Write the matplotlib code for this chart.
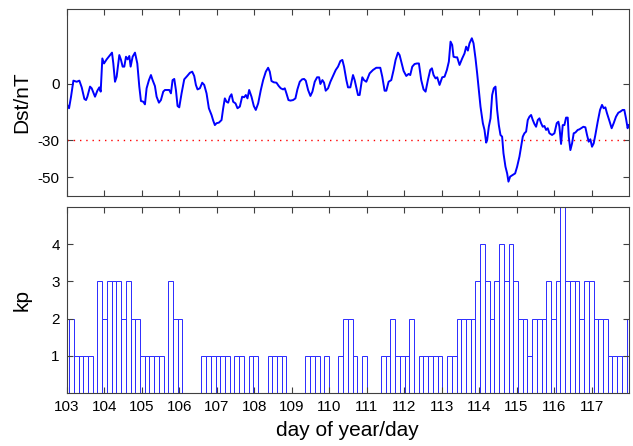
import numpy as np
import matplotlib
matplotlib.use("Agg")
import matplotlib.pyplot as plt

plt.rcParams['font.family'] = ['Liberation Sans', 'DejaVu Sans']

# Hourly-ish Dst index (day of year, nT)
dst_day = [
    103.000, 103.062, 103.115, 103.178, 103.266, 103.337, 103.400, 103.471, 103.515, 103.551,
    103.622, 103.666, 103.755, 103.817, 103.870, 103.906, 103.950, 103.995, 104.066, 104.137,
    104.208, 104.243, 104.288, 104.332, 104.403, 104.448, 104.492, 104.536, 104.581, 104.625,
    104.670, 104.705, 104.758, 104.821, 104.883, 104.936, 104.980, 105.043, 105.087, 105.131,
    105.194, 105.247, 105.291, 105.353, 105.398, 105.460, 105.513, 105.575, 105.620, 105.682,
    105.735, 105.780, 105.824, 105.869, 105.913, 105.957, 106.002, 106.064, 106.135, 106.215,
    106.286, 106.348, 106.401, 106.446, 106.490, 106.552, 106.615, 106.668, 106.730, 106.792,
    106.863, 106.908, 106.952, 106.996, 107.059, 107.130, 107.174, 107.218, 107.263, 107.307,
    107.352, 107.396, 107.440, 107.503, 107.556, 107.618, 107.680, 107.734, 107.778, 107.822,
    107.867, 107.929, 107.991, 108.044, 108.107, 108.178, 108.240, 108.311, 108.373, 108.417,
    108.462, 108.524, 108.595, 108.657, 108.710, 108.773, 108.817, 108.861, 108.915, 108.968,
    109.039, 109.101, 109.154, 109.217, 109.279, 109.332, 109.377, 109.439, 109.501, 109.554,
    109.616, 109.679, 109.732, 109.767, 109.821, 109.865, 109.909, 109.972, 110.034, 110.105,
    110.176, 110.238, 110.300, 110.353, 110.398, 110.460, 110.504, 110.566, 110.637, 110.681,
    110.770, 110.814, 110.885, 110.930, 110.992, 111.081, 111.170, 111.258, 111.365, 111.418,
    111.480, 111.525, 111.587, 111.658, 111.720, 111.773, 111.836, 111.880, 111.925, 111.987,
    112.058, 112.120, 112.164, 112.218, 112.280, 112.342, 112.395, 112.457, 112.519, 112.573,
    112.635, 112.697, 112.742, 112.786, 112.839, 112.884, 112.946, 113.017, 113.079, 113.141,
    113.194, 113.239, 113.283, 113.319, 113.372, 113.416, 113.479, 113.550, 113.612, 113.656,
    113.701, 113.745, 113.807, 113.852, 113.905, 113.949, 113.994, 114.038, 114.101, 114.145,
    114.189, 114.216, 114.260, 114.305, 114.349, 114.393, 114.438, 114.482, 114.527, 114.571,
    114.615, 114.651, 114.704, 114.749, 114.784, 114.829, 114.900, 114.962, 115.015, 115.077,
    115.122, 115.166, 115.210, 115.255, 115.299, 115.344, 115.388, 115.433, 115.477, 115.521,
    115.566, 115.610, 115.655, 115.699, 115.743, 115.788, 115.832, 115.877, 115.947, 116.010,
    116.072, 116.116, 116.143, 116.187, 116.232, 116.276, 116.321, 116.365, 116.392, 116.436,
    116.481, 116.525, 116.569, 116.632, 116.676, 116.720, 116.783, 116.836, 116.880, 116.925,
    116.969, 117.013, 117.058, 117.102, 117.165, 117.227, 117.280, 117.324, 117.369, 117.413,
    117.475, 117.537, 117.591, 117.653, 117.715, 117.768, 117.830, 117.875, 117.919, 117.963,
    117.990,
]
dst_nt = [
    -10.7, -13.0, -6.8, 1.8, 1.2, 1.8, -1.8, -8.0, -8.6, -6.8,
    -1.4, -2.3, -6.8, -3.6, -1.8, -4.1, 13.7, 11.0, 13.2, 15.0,
    16.8, 11.0, 1.2, 3.9, 15.5, 12.9, 9.3, 9.3, 14.6, 13.2,
    15.0, 9.3, 14.6, 16.8, 11.0, -1.4, -9.1, -9.5, -10.9, -2.3,
    2.1, 4.8, 2.1, -1.1, -6.8, -10.0, -8.6, -4.1, -3.2, -3.2,
    -3.2, -5.0, 2.1, 2.7, -3.2, -11.8, -12.5, -5.0, 2.5, 4.3,
    6.0, 6.6, 4.3, -0.5, -2.9, -2.3, 0.7, -0.5, -5.0, -13.0,
    -16.6, -19.6, -22.0, -21.0, -20.7, -19.3, -13.0, -7.7, -9.5, -10.0,
    -6.8, -5.5, -9.5, -10.4, -13.0, -12.1, -6.8, -7.1, -5.9, -7.7,
    -3.2, -6.8, -11.8, -13.9, -10.4, -3.2, 2.1, 6.6, 8.7, 6.6,
    1.6, 0.9, 0.7, -1.1, -2.3, -2.9, -2.3, -5.0, -8.6, -8.9,
    -8.6, -7.7, -2.9, 1.2, 2.5, 2.7, 1.8, -3.2, -6.4, -4.1,
    1.2, 3.6, 3.6, 0.0, 2.1, 0.7, -3.6, -2.3, 1.2, 4.3,
    7.5, 9.3, 12.3, 12.9, 9.3, 2.1, -1.8, -1.8, 4.8, 2.1,
    -5.9, -5.9, 3.6, 2.1, 1.2, 5.7, 7.5, 8.7, 8.7, 3.9,
    -3.6, -3.6, 1.2, 2.1, 7.5, 12.9, 16.8, 15.5, 12.0, 7.0,
    4.3, 5.4, 4.8, 9.3, 10.7, 11.0, 11.0, 2.1, -2.9, -4.1,
    2.1, 7.5, 8.4, 4.8, 3.0, 3.6, -0.5, 3.6, 3.9, 7.5,
    12.0, 22.7, 20.9, 14.6, 14.3, 14.3, 10.2, 13.7, 16.4, 20.0,
    17.9, 21.8, 24.5, 21.8, 13.7, 5.7, -3.2, -12.1, -21.0, -24.6,
    -31.4, -30.0, -22.9, -18.4, -5.9, -2.3, -1.4, -13.9, -22.0, -27.3,
    -28.2, -37.1, -44.3, -47.9, -52.3, -49.6, -48.7, -47.9, -44.3, -38.9,
    -33.6, -28.2, -26.4, -25.5, -19.3, -17.5, -16.6, -19.3, -21.4, -22.9,
    -19.3, -18.4, -21.0, -22.9, -22.5, -24.6, -23.7, -26.4, -27.3, -26.4,
    -21.0, -20.2, -22.9, -32.1, -22.0, -22.0, -18.0, -18.0, -28.2, -35.4,
    -31.8, -26.4, -26.0, -24.6, -24.3, -23.7, -22.9, -23.2, -27.3, -30.9,
    -29.6, -33.6, -31.8, -27.3, -20.2, -13.9, -11.2, -13.0, -12.5, -15.7,
    -19.6, -23.7, -21.0, -17.5, -15.4, -14.8, -13.9, -13.9, -18.4, -23.7,
    -22.0,
]

# Planetary Kp index, one value per 3-hour interval
kp_index = [
    2, 2, 1, 1, 1, 1, 0, 3, 2, 3,
    3, 3, 2, 3, 2, 2, 1, 1, 1, 1,
    1, 0, 3, 2, 2, 0, 0, 0, 0, 1,
    1, 1, 1, 1, 1, 0, 1, 1, 0, 1,
    1, 0, 0, 1, 1, 1, 1, 0, 0, 0,
    0, 1, 1, 1, 0, 1, 0, 0, 1, 2,
    2, 1, 0, 1, 0, 0, 0, 1, 1, 2,
    1, 1, 1, 2, 0, 1, 1, 1, 1, 1,
    0, 1, 1, 2, 2, 2, 2, 3, 4, 3,
    2, 3, 4, 3, 4, 3, 2, 2, 1, 2,
    2, 2, 3, 2, 3, 5, 3, 3, 3, 2,
    3, 3, 2, 2, 2, 1, 1, 1, 1, 2,
]

day_ticks = list(range(103, 118))
day_labels = [str(d) for d in day_ticks]
dst_ticks = [-50, -30, 0]
dst_labels = ['-50', '-30', '0']
kp_ticks = [1, 2, 3, 4]
kp_labels = ['1', '2', '3', '4']
storm_level = -30

frame_color = '#404040'
blue = '#0000ff'

fig = plt.figure(figsize=(6.33, 4.46), dpi=100)
ax1 = fig.add_axes([0.1054, 0.5605, 0.8883, 0.4186])
ax2 = fig.add_axes([0.1054, 0.1188, 0.8883, 0.4171])

# Dst panel
ax1.plot(dst_day, dst_nt, color=blue, lw=1.4, zorder=3)
ax1.axhline(storm_level, color='red', lw=1.0, ls=(0, (1, 3.5)), zorder=2)
ax1.set_xlim(103, 118)
ax1.set_ylim(-60, 40)
ax1.set_xticks(day_ticks)
ax1.set_xticklabels([])
ax1.set_yticks(dst_ticks)
ax1.set_yticklabels(dst_labels)
ax1.set_ylabel('Dst/nT', fontsize=15)
ax1.yaxis.set_label_coords(-0.063, 0.5)

# Kp panel
kp_day = np.linspace(103, 118, len(kp_index))
bar_w = kp_day[1] - kp_day[0]
ax2.bar(kp_day, kp_index, width=bar_w, align='center', facecolor='white',
        edgecolor='#2a2aff', linewidth=0.7, zorder=1)
ax2.set_xlim(103, 118)
ax2.set_ylim(0, 5)
ax2.set_xticks(day_ticks)
ax2.set_xticklabels(day_labels)
ax2.set_yticks(kp_ticks)
ax2.set_yticklabels(kp_labels)
ax2.set_ylabel('kp', fontsize=15)
ax2.yaxis.set_label_coords(-0.063, 0.5)
ax2.set_xlabel('day of year/day', fontsize=15, labelpad=5)

for ax in (ax1, ax2):
    for sp in ax.spines.values():
        sp.set_color(frame_color)
        sp.set_linewidth(0.8)
        sp.set_zorder(4)
    ax.tick_params(direction='in', length=4, width=0.8, color=frame_color,
                   top=True, right=True, labelsize=11, labelcolor='black', pad=5)

fig.savefig('out.png', dpi=100)
